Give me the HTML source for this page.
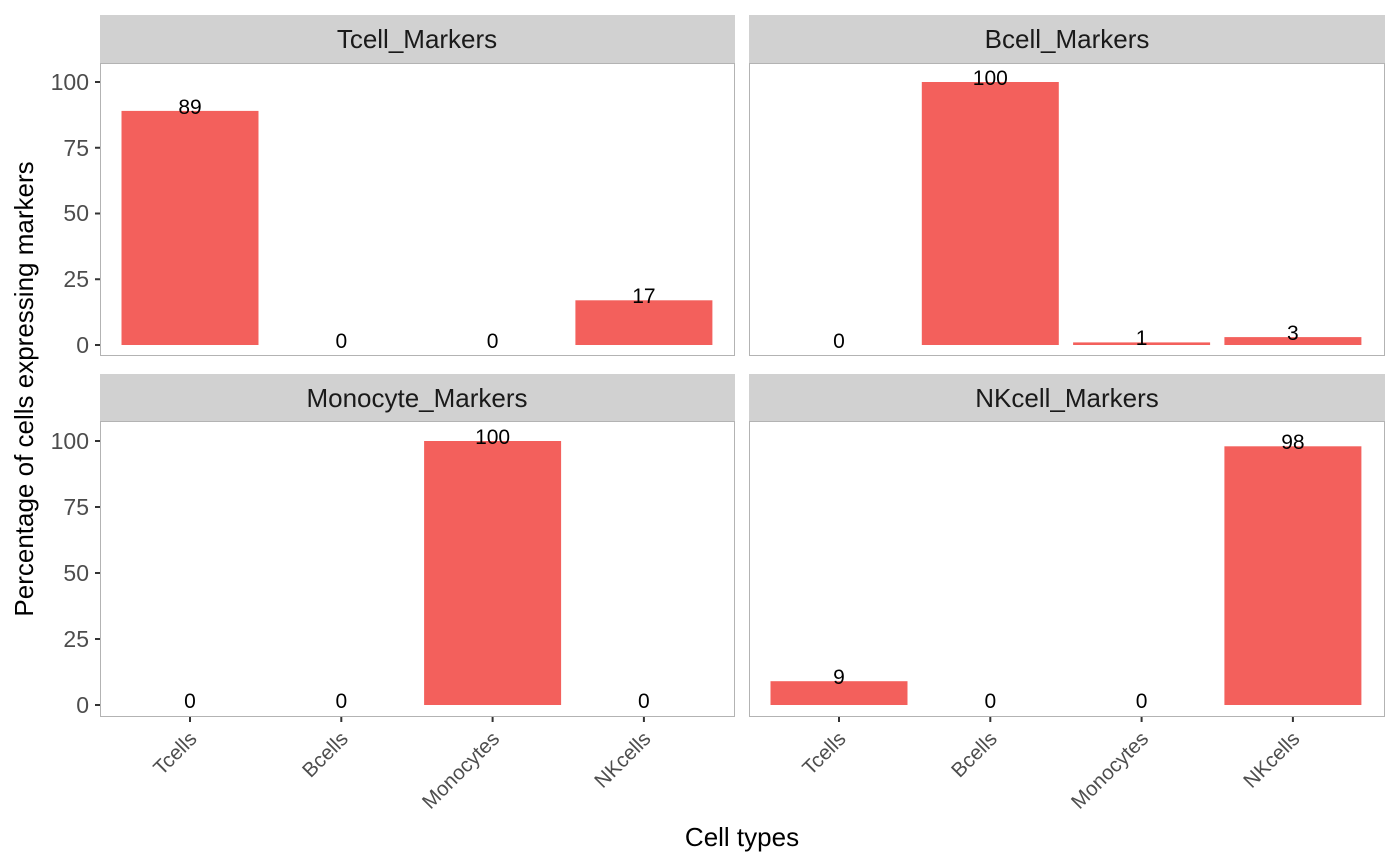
<!DOCTYPE html><html><head><style>body{margin:0;background:#fff}svg{display:block;font-family:"Liberation Sans",Arial,sans-serif}</style></head><body>
<svg width="1400" height="865" xmlns="http://www.w3.org/2000/svg">
<g fill="#d1d1d1">
<rect x="100" y="15" width="635" height="48"/><rect x="749" y="15" width="636" height="48"/>
<rect x="100" y="374" width="635" height="47"/><rect x="749" y="374" width="636" height="47"/>
</g>
<g font-size="26" text-anchor="middle" fill="#1a1a1a">
<text x="417" y="48">Tcell_Markers</text><text x="1067" y="48">Bcell_Markers</text>
<text x="417" y="407">Monocyte_Markers</text><text x="1067" y="407">NKcell_Markers</text>
</g>
<g fill="none" stroke="#b3b3b3">
<rect x="100.5" y="63.5" width="634" height="292"/><rect x="749.5" y="63.5" width="635" height="292"/>
<rect x="100.5" y="421.5" width="634" height="295"/><rect x="749.5" y="421.5" width="635" height="295"/>
</g>
<g fill="#f3605c">
<rect x="121.5" y="110.9" width="137" height="234.1"/>
<rect x="575.4" y="300.3" width="137" height="44.7"/>
<rect x="921.8" y="82" width="137" height="263"/>
<rect x="1073.1" y="342.4" width="137" height="2.6"/>
<rect x="1224.4" y="337.1" width="137" height="7.9"/>
<rect x="424.1" y="441" width="137" height="264"/>
<rect x="770.5" y="681.2" width="137" height="23.8"/>
<rect x="1224.4" y="446.3" width="137" height="258.7"/>
</g>
<g font-size="21" text-anchor="middle" fill="#000">
<text x="190" y="114">89</text><text x="341.3" y="348">0</text><text x="492.6" y="348">0</text><text x="643.9" y="303">17</text>
<text x="839" y="348">0</text><text x="990.3" y="85">100</text><text x="1141.6" y="345">1</text><text x="1292.9" y="340">3</text>
<text x="190" y="708">0</text><text x="341.3" y="708">0</text><text x="492.6" y="444">100</text><text x="643.9" y="708">0</text>
<text x="839" y="684">9</text><text x="990.3" y="708">0</text><text x="1141.6" y="708">0</text><text x="1292.9" y="449">98</text>
</g>
<g stroke="#333" stroke-width="2">
<line x1="95" y1="345" x2="100" y2="345"/><line x1="95" y1="279.25" x2="100" y2="279.25"/><line x1="95" y1="213.5" x2="100" y2="213.5"/><line x1="95" y1="147.75" x2="100" y2="147.75"/><line x1="95" y1="82" x2="100" y2="82"/>
<line x1="95" y1="705" x2="100" y2="705"/><line x1="95" y1="639" x2="100" y2="639"/><line x1="95" y1="573" x2="100" y2="573"/><line x1="95" y1="507" x2="100" y2="507"/><line x1="95" y1="441" x2="100" y2="441"/>
<line x1="190" y1="717" x2="190" y2="722"/><line x1="341.3" y1="717" x2="341.3" y2="722"/><line x1="492.6" y1="717" x2="492.6" y2="722"/><line x1="643.9" y1="717" x2="643.9" y2="722"/>
<line x1="839" y1="717" x2="839" y2="722"/><line x1="990.3" y1="717" x2="990.3" y2="722"/><line x1="1141.6" y1="717" x2="1141.6" y2="722"/><line x1="1292.9" y1="717" x2="1292.9" y2="722"/>
</g>
<g font-size="23" text-anchor="end" fill="#4d4d4d">
<text x="89" y="353">0</text><text x="89" y="287">25</text><text x="89" y="221">50</text><text x="89" y="156">75</text><text x="89" y="90">100</text>
<text x="89" y="713">0</text><text x="89" y="647">25</text><text x="89" y="581">50</text><text x="89" y="515">75</text><text x="89" y="449">100</text>
</g>
<g font-size="20.5" text-anchor="end" fill="#4d4d4d">
<text transform="translate(198,740) rotate(-45)">Tcells</text>
<text transform="translate(349.3,740) rotate(-45)">Bcells</text>
<text transform="translate(500.6,740) rotate(-45)">Monocytes</text>
<text transform="translate(651.9,740) rotate(-45)">NKcells</text>
<text transform="translate(847,740) rotate(-45)">Tcells</text>
<text transform="translate(998.3,740) rotate(-45)">Bcells</text>
<text transform="translate(1149.6,740) rotate(-45)">Monocytes</text>
<text transform="translate(1300.9,740) rotate(-45)">NKcells</text>
</g>
<text x="742" y="846" font-size="26" text-anchor="middle" fill="#000">Cell types</text>
<text transform="translate(33,389) rotate(-90)" font-size="26" text-anchor="middle" fill="#000">Percentage of cells expressing markers</text>
</svg></body></html>
